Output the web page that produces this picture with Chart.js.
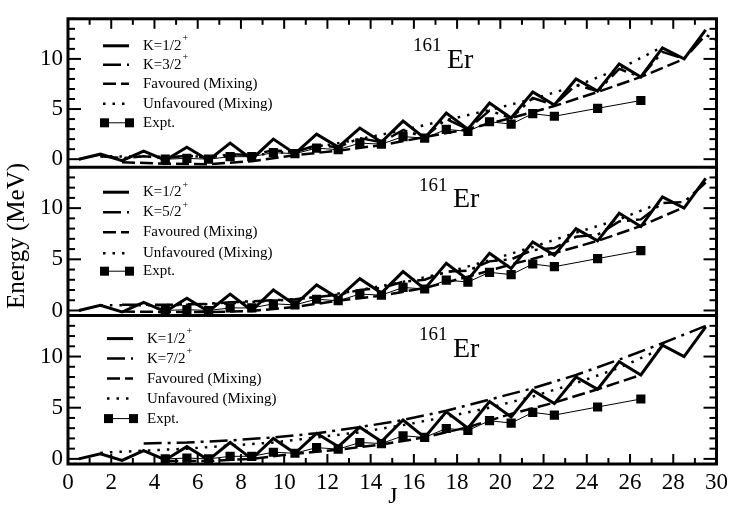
<!DOCTYPE html>
<html>
<head>
<meta charset="utf-8">
<script src="https://cdn.jsdelivr.net/npm/chart.js@4.4.1/dist/chart.umd.min.js"></script>
<style>
  html, body { margin: 0; padding: 0; background: #fff; }
  #wrap { position: relative; width: 733px; height: 510px; }
</style>
</head>
<body>
<div id="wrap"><canvas id="chart" width="733" height="510"></canvas></div>
<script>
var SERIF = '"Liberation Serif", "Times New Roman", serif';

// spins of the K=1/2 band (both signatures)
var jAll = [0.5, 1.5, 2.5, 3.5, 4.5, 5.5, 6.5, 7.5, 8.5, 9.5, 10.5, 11.5, 12.5, 13.5, 14.5,
            15.5, 16.5, 17.5, 18.5, 19.5, 20.5, 21.5, 22.5, 23.5, 24.5, 25.5, 26.5, 27.5, 28.5, 29.5];
var kHalf = [0.0, 0.5, -0.15, 0.8, -0.1, 1.2, -0.1, 1.6, 0.0, 2.0, 0.55, 2.5, 1.2, 3.1, 1.7,
             3.8, 2.1, 4.6, 3.0, 5.6, 4.1, 6.7, 5.4, 8.0, 6.8, 9.5, 8.2, 11.1, 10.0, 12.9];

// K=3/2 band (top panel)
var jK32 = [1.5, 2.5, 3.5, 4.5, 5.5, 6.5, 7.5, 8.5, 9.5, 10.5, 11.5, 12.5, 13.5, 14.5, 15.5,
            16.5, 17.5, 18.5, 19.5, 20.5, 21.5, 22.5, 23.5, 24.5, 25.5, 26.5, 27.5, 28.5, 29.5, 30.5];
var k32 = [0.3, 0.1, 0.3, 0.1, 0.35, 0.15, 0.5, 0.4, 0.9, 0.7, 1.4, 1.2, 2.1, 1.7, 2.9,
           2.2, 4.0, 3.0, 4.85, 4.1, 6.1, 5.4, 7.4, 6.8, 9.0, 8.2, 10.7, 10.0, 12.4, 11.4];

// K=5/2 band (middle panel)
var jK52 = [2.5, 3.5, 4.5, 5.5, 6.5, 7.5, 8.5, 9.5, 10.5, 11.5, 12.5, 13.5, 14.5, 15.5,
            16.5, 17.5, 18.5, 19.5, 20.5, 21.5, 22.5, 23.5, 24.5, 25.5, 26.5, 27.5, 28.5, 29.5];
var k52 = [0.55, 0.55, 0.55, 0.6, 0.65, 0.8, 0.9, 1.0, 1.1, 1.3, 1.55, 2.0, 2.2, 2.8,
           3.0, 3.8, 3.9, 4.8, 5.0, 5.9, 6.1, 7.2, 7.4, 8.7, 8.9, 10.5, 10.6, 12.5];

// K=7/2 band (bottom panel)
var jK72 = [3.5, 5.5, 7.5, 9.5, 11.5, 13.5, 15.5, 17.5, 19.5, 21.5, 23.5, 25.5, 27.5, 29.5];
var k72 = [1.5, 1.6, 1.8, 2.1, 2.5, 3.1, 3.8, 4.7, 5.8, 6.9, 8.2, 9.7, 11.3, 13.0];

// favoured signature (mixing)
var jFav = [2.5, 4.5, 6.5, 8.5, 10.5, 12.5, 14.5, 16.5, 18.5, 20.5, 22.5, 24.5, 26.5, 28.5];
var favTop = [-0.3, -0.45, -0.5, -0.2, 0.4, 0.85, 1.4, 2.2, 3.0, 4.1, 5.3, 6.7, 8.2, 10.0];
var favMid = [-0.1, -0.15, -0.15, -0.05, 0.35, 0.95, 1.45, 2.2, 3.3, 4.5, 5.6, 6.8, 8.25, 10.1];
var jFavBot = [4.5, 6.5, 8.5, 10.5, 12.5, 14.5, 16.5, 18.5, 20.5, 22.5, 24.5, 26.5];
var favBot = [-0.2, -0.2, 0.0, 0.5, 0.9, 1.4, 2.1, 3.1, 4.4, 5.5, 6.8, 8.2];

// unfavoured signature (mixing)
var jUnf = [1.5, 3.5, 5.5, 7.5, 9.5, 11.5, 13.5, 15.5, 17.5, 19.5, 21.5, 23.5, 25.5, 27.5];
var unfTop = [0.3, 0.25, 0.25, 0.3, 0.55, 1.2, 2.0, 2.9, 3.9, 4.9, 6.0, 7.3, 9.0, 11.2];
var unfMid = [0.5, 0.5, 0.55, 0.7, 0.95, 1.3, 2.0, 2.8, 3.7, 4.9, 6.2, 7.6, 8.9, 10.6];
var unfBot = [0.6, 0.8, 1.0, 1.3, 1.6, 2.1, 2.6, 3.3, 4.1, 5.0, 6.1, 7.4, 8.9, 10.8];

// experiment
var jExpt = [4.5, 5.5, 6.5, 7.5, 8.5, 9.5, 10.5, 11.5, 12.5, 13.5, 14.5, 15.5, 16.5, 17.5,
             18.5, 19.5, 20.5, 21.5, 22.5, 24.5, 26.5];
var expt = [0.0, 0.08, 0.0, 0.25, 0.25, 0.65, 0.55, 1.1, 0.95, 1.6, 1.5, 2.25, 2.1, 2.97,
            2.78, 3.73, 3.5, 4.54, 4.28, 5.07, 5.85];

var xTicks = [0, 2, 4, 6, 8, 10, 12, 14, 16, 18, 20, 22, 24, 26, 28, 30];

function pts(js, es) {
  return js.map(function (j, i) { return { x: j, y: es[i] }; });
}

// panel description: axis id, label of second band and its data, legend/label placement
var panels = [
  { axis: 'yA', kLabel: 'K=3/2', kJ: jK32, kE: k32, favJ: jFav, favE: favTop, unfE: unfTop,
    iso: [413, 32, 447, 49], lx: 0, offs: [27, 46, 65, 85, 104] },
  { axis: 'yB', kLabel: 'K=5/2', kJ: jK52, kE: k52, favJ: jFav, favE: favMid, unfE: unfMid,
    iso: [419, 24, 453, 40], lx: 0, offs: [25, 45, 65, 86, 104] },
  { axis: 'yC', kLabel: 'K=7/2', kJ: jK72, kE: k72, favJ: jFavBot, favE: favBot, unfE: unfBot,
    iso: [419, 24, 453, 41], lx: 4, offs: [23, 43, 63, 83, 103] }
];

var styles = {
  expt: { borderWidth: 1, borderDash: [] },
  half: { borderWidth: 3, borderDash: [] },
  band: { borderWidth: 2.5, borderDash: [18, 6, 3, 6] },
  fav:  { borderWidth: 2.5, borderDash: [13, 5] },
  unf:  { borderWidth: 2.5, borderDash: [2.5, 7] }
};

var datasets = [];
panels.forEach(function (p) {
  var base = { yAxisID: p.axis, borderColor: '#000', backgroundColor: '#000', pointRadius: 0, tension: 0, fill: false };
  datasets.push(Object.assign({}, base, styles.expt, { label: 'Expt.', data: pts(jExpt, expt),
    pointStyle: 'rect', pointRadius: 6.5, pointBorderWidth: 0, pointBackgroundColor: '#000', order: 0 }));
  datasets.push(Object.assign({}, base, styles.half, { label: 'K=1/2', data: pts(jAll, kHalf), order: 1 }));
  datasets.push(Object.assign({}, base, styles.band, { label: p.kLabel, data: pts(p.kJ, p.kE), order: 2 }));
  datasets.push(Object.assign({}, base, styles.fav, { label: 'Favoured (Mixing)', data: pts(p.favJ, p.favE), order: 3 }));
  datasets.push(Object.assign({}, base, styles.unf, { label: 'Unfavoured (Mixing)', data: pts(jUnf, p.unfE), order: 4 }));
});

function yAxis(min) {
  return {
    type: 'linear', position: 'left', stack: 'e', stackWeight: 1,
    min: min, max: 14,
    grid: { display: false, drawTicks: false }, border: { display: false },
    ticks: { stepSize: 5, includeBounds: false, padding: 5, color: '#000', font: { family: SERIF, size: 23 } },
    afterFit: function (s) { s.width = 68; }
  };
}

function line(ctx, x1, y1, x2, y2) {
  ctx.beginPath(); ctx.moveTo(x1, y1); ctx.lineTo(x2, y2); ctx.stroke();
}

var framePlugin = {
  id: 'frame',
  afterDatasetsDraw: function (chart) {
    var ctx = chart.ctx, a = chart.chartArea, xs = chart.scales.x;
    ctx.save();
    ctx.strokeStyle = '#000';
    ctx.setLineDash([]);
    ctx.lineWidth = 3;
    ctx.strokeRect(a.left, a.top, a.right - a.left, a.bottom - a.top);

    panels.forEach(function (p, i) {
      var s = chart.scales[p.axis];
      ctx.setLineDash([]);
      if (i > 0) { ctx.lineWidth = 3; line(ctx, a.left, s.top, a.right, s.top); }
      ctx.lineWidth = 2;
      for (var v = Math.ceil(s.min); v <= s.max; v++) {
        var y = s.getPixelForValue(v), len = v % 5 === 0 ? 13 : 7;
        line(ctx, a.left, y, a.left + len, y);
        line(ctx, a.right, y, a.right - len, y);
      }

      // legend
      var rows = chart.data.datasets.filter(function (d) { return d.yAxisID === p.axis; });
      var order = ['K=1/2', p.kLabel, 'Favoured (Mixing)', 'Unfavoured (Mixing)', 'Expt.'];
      order.forEach(function (lab, r) {
        var d = rows.filter(function (q) { return q.label === lab; })[0];
        var y = s.top + p.offs[r];
        var x0 = 103 + p.lx;
        ctx.lineWidth = d.borderWidth;
        ctx.setLineDash(d.borderDash || []);
        line(ctx, x0, y, x0 + 26, y);
        ctx.setLineDash([]);
        ctx.fillStyle = '#000';
        if (lab === 'Expt.') {
          ctx.fillRect(x0 - 3, y - 4.5, 9, 9);
          ctx.fillRect(x0 + 22, y - 4.5, 9, 9);
        }
        ctx.font = '15px ' + SERIF;
        ctx.textAlign = 'left';
        ctx.textBaseline = 'middle';
        ctx.fillText(lab, x0 + 40, y);
        if (lab.indexOf('K=') === 0) {
          var w = ctx.measureText(lab).width;
          ctx.font = '10px ' + SERIF;
          ctx.fillText('+', x0 + 40 + w + 1, y - 7);
        }
      });

      // isotope label
      ctx.textBaseline = 'alphabetic';
      ctx.font = '19px ' + SERIF;
      ctx.fillText('161', p.iso[0], s.top + p.iso[1]);
      ctx.font = '28px ' + SERIF;
      ctx.fillText('Er', p.iso[2], s.top + p.iso[3]);
    });

    // x ticks at top and bottom
    ctx.lineWidth = 2;
    for (var j = 0; j <= 30; j++) {
      var x = xs.getPixelForValue(j), len = j % 2 === 0 ? 10 : 6;
      line(ctx, x, a.top, x, a.top + len);
      line(ctx, x, a.bottom, x, a.bottom - len);
    }

    // axis titles
    ctx.fillStyle = '#000';
    ctx.textAlign = 'center';
    ctx.textBaseline = 'middle';
    ctx.font = '24px ' + SERIF;
    ctx.fillText('J', 393, 497);
    ctx.translate(17, 236);
    ctx.rotate(-Math.PI / 2);
    ctx.font = '25px ' + SERIF;
    ctx.fillText('Energy (MeV)', 0, 0);
    ctx.restore();
  }
};

var config = {
  type: 'line',
  data: { datasets: datasets },
  options: {
    responsive: false,
    animation: false,
    layout: { padding: { left: 0, right: 13, top: 6, bottom: 0 } },
    plugins: { legend: { display: false }, tooltip: { enabled: false } },
    scales: {
      x: {
        type: 'linear', min: 0, max: 30,
        grid: { display: false, drawTicks: false }, border: { display: false },
        afterBuildTicks: function (s) { s.ticks = xTicks.map(function (v) { return { value: v }; }); },
        ticks: { padding: 5, maxRotation: 0, autoSkip: false, color: '#000', font: { family: SERIF, size: 23 } },
        afterFit: function (s) { s.height = 46; }
      },
      yC: yAxis(-0.5),
      yB: yAxis(-0.5),
      yA: yAxis(-0.8)
    }
  },
  plugins: [framePlugin]
};

window.onload = function () {
  var ctx = document.getElementById('chart').getContext('2d');
  window.myChart = new Chart(ctx, config);
};
</script>
</body>
</html>
